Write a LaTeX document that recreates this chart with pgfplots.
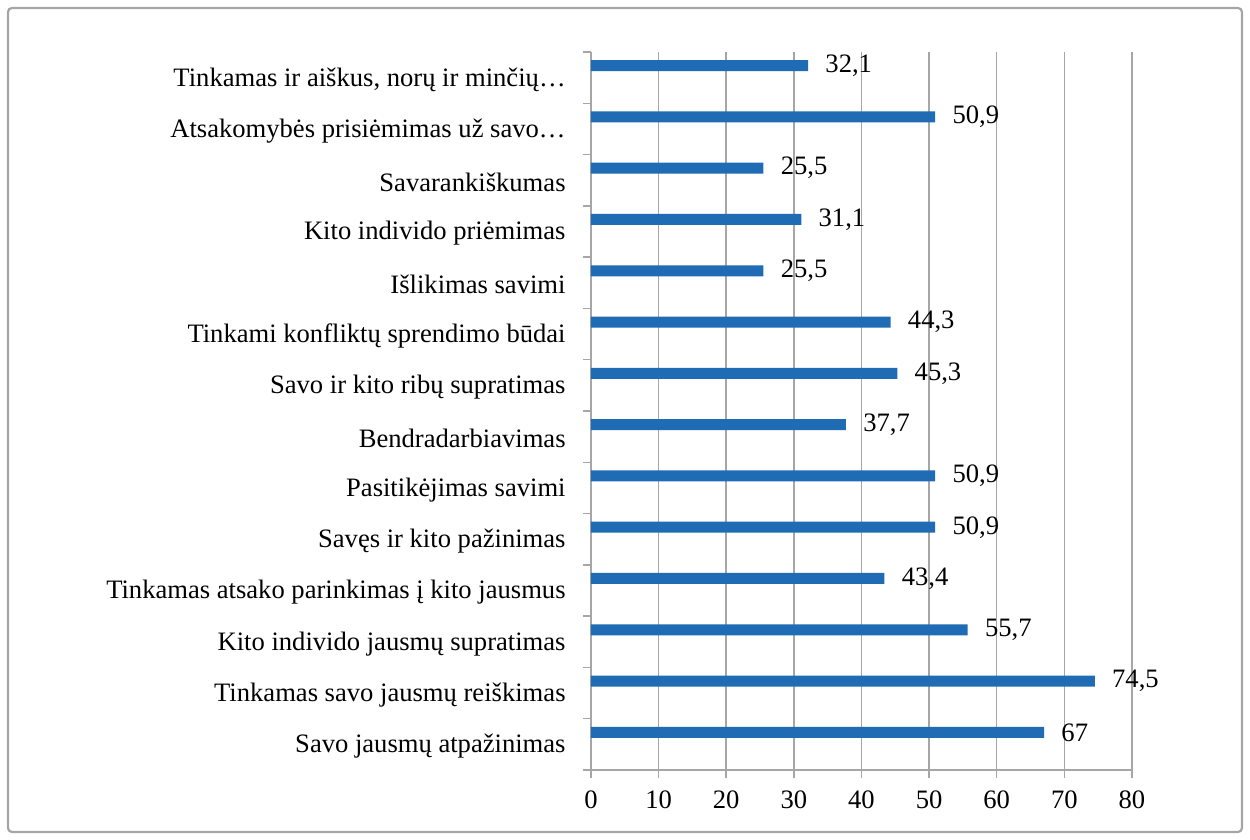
\documentclass[border=0pt]{standalone}
\usepackage{fontspec}
\setmainfont{Liberation Serif}
\usepackage{pgfplots}
\pgfplotsset{compat=1.18}
\definecolor{barblue}{RGB}{31,107,180}
\definecolor{gridgray}{RGB}{166,166,166}
\definecolor{framegray}{RGB}{165,165,165}
\begin{document}
\fontsize{13.3}{16}\selectfont
\begin{tikzpicture}
\begin{axis}[
  at={(0,0)}, anchor=south west,
  scale only axis, width=270.5pt, height=359pt,
  xbar, bar width=5.5pt, bar shift=6pt,
  xmin=0, xmax=80, xtick={0,10,...,80},
  ymin=-0.5, ymax=13.5,
  ytick={0,...,13},
  yticklabels={Savo jausmų atpažinimas,
    Tinkamas savo jausmų reiškimas,
    Kito individo jausmų supratimas,
    Tinkamas atsako parinkimas į kito jausmus,
    Savęs ir kito pažinimas,
    Pasitikėjimas savimi,
    Bendradarbiavimas,
    Savo ir kito ribų supratimas,
    Tinkami konfliktų sprendimo būdai,
    Išlikimas savimi,
    Kito individo priėmimas,
    Savarankiškumas,
    Atsakomybės prisiėmimas už savo…,
    {Tinkamas ir aiškus, norų ir minčių…}},
  axis x line*=bottom, axis y line*=left,
  axis line style={draw=gridgray, line width=0.75pt, -},
  xmajorgrids, grid style={draw=gridgray, line width=0.75pt},
  major tick length=4pt, tick align=outside,
  x tick style={draw=gridgray, line width=0.75pt},
  y tick style={draw=none},
  extra y ticks={-0.5,0.5,...,13.5},
  extra y tick labels={},
  extra y tick style={y tick style={draw=gridgray, line width=0.75pt}},
  /pgf/number format/assume math mode=true,
  /pgf/number format/use comma,
  ticklabel style={font=\fontsize{13.3}{16}\selectfont, text=black},
  yticklabel style={inner sep=0pt, xshift=-8.5pt, yshift=-1pt},
  xticklabel style={inner sep=0pt, yshift=-6pt},
  nodes near coords,
  every node near coord/.append style={anchor=west, inner sep=0pt, xshift=8.5pt, text=black, font=\fontsize{13.3}{16}\selectfont},
]
\addplot[fill=barblue, draw=none] coordinates {
  (67,0) (74.5,1) (55.7,2) (43.4,3) (50.9,4) (50.9,5) (37.7,6)
  (45.3,7) (44.3,8) (25.5,9) (31.1,10) (25.5,11) (50.9,12) (32.1,13)
};
\end{axis}
\draw[framegray, line width=1.1pt, rounded corners=2pt] (-291.5pt,-31pt) rectangle (325.5pt,381pt);
\pgfresetboundingbox
\useasboundingbox (-295.5pt,-35pt) rectangle (329.5pt,385pt);
\end{tikzpicture}
\end{document}
